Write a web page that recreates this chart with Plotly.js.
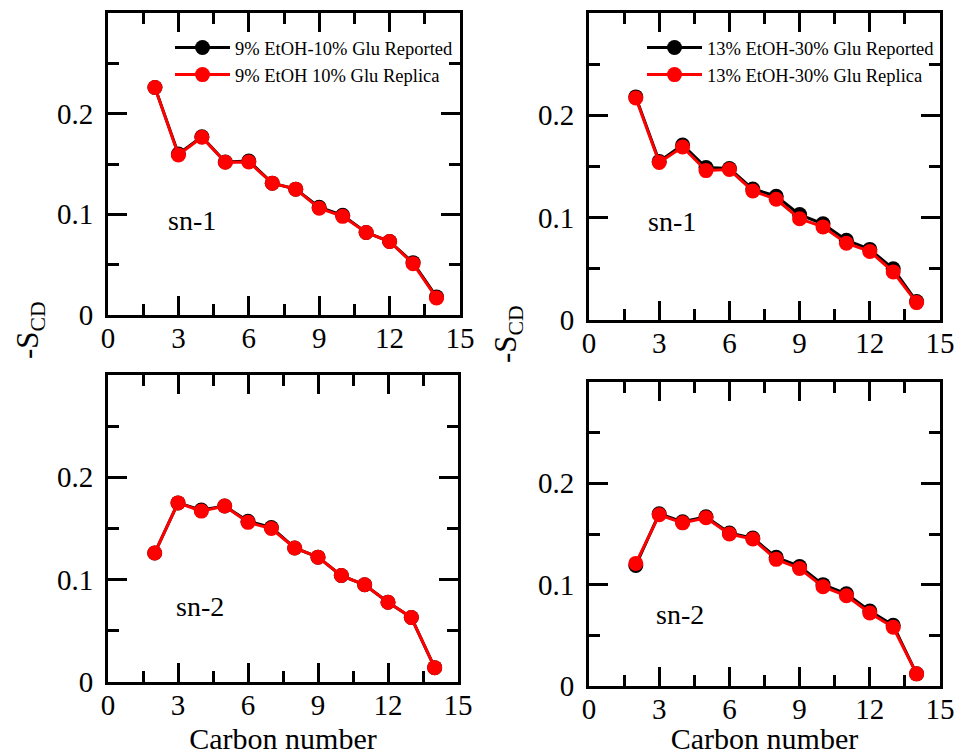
<!DOCTYPE html>
<html>
<head>
<meta charset="utf-8">
<script src="https://cdn.plot.ly/plotly-3.0.1.min.js"></script>
<style>html,body{margin:0;padding:0;background:#fff;}#chart{width:958px;height:755px;}</style>
</head>
<body>
<div id="chart"></div>
<script>
// ---- data ----
const carbons = [2,3,4,5,6,7,8,9,10,11,12,13,14];

const sn1_9_reported = [0.226,0.160,0.177,0.152,0.153,0.131,0.125,0.107,0.099,0.082,0.073,0.052,0.018];
const sn1_9_replica  = [0.226,0.159,0.1765,0.1517,0.152,0.131,0.125,0.106,0.098,0.082,0.073,0.051,0.017];

const sn1_13_reported = [0.218,0.155,0.171,0.149,0.148,0.128,0.121,0.103,0.094,0.078,0.069,0.050,0.018];
const sn1_13_replica  = [0.217,0.154,0.169,0.146,0.147,0.126,0.118,0.099,0.091,0.075,0.067,0.047,0.017];

const sn2_9_reported = [0.126,0.175,0.168,0.172,0.157,0.151,0.131,0.122,0.104,0.095,0.078,0.063,0.014];
const sn2_9_replica  = [0.126,0.175,0.167,0.172,0.156,0.150,0.131,0.122,0.104,0.095,0.078,0.063,0.014];

const sn2_13_reported = [0.119,0.170,0.162,0.167,0.151,0.146,0.127,0.118,0.100,0.091,0.074,0.060,0.012];
const sn2_13_replica  = [0.121,0.169,0.161,0.166,0.150,0.145,0.125,0.116,0.098,0.089,0.072,0.058,0.012];

const names = {
  rep9: "9% EtOH-10% Glu Reported",
  repl9: "9% EtOH 10% Glu Replica",
  rep13: "13% EtOH-30% Glu Reported",
  repl13: "13% EtOH-30% Glu Replica"
};

const xTickVals = [0,3,6,9,12,15];
const yTickVals = [0,0.1,0.2];
const yTickText = ["0","0.1","0.2"];

// ---- styling ----
const FONT = "Liberation Serif, Times New Roman, serif";
const BLACK = "#000000", RED = "#ff0000";

function series(x, y, color, name, xa, ya, legend, show, group) {
  return {
    x: x, y: y, type: "scatter", mode: "lines+markers", name: name,
    xaxis: xa, yaxis: ya, legend: legend, showlegend: show, legendgroup: group,
    line: {color: color, width: 3},
    marker: {color: color, size: 15, line: {width: 0}}
  };
}

const traces = [
  series(carbons, sn1_9_reported, BLACK, names.rep9, "x", "y", "legend", true, "a"),
  series(carbons, sn1_9_replica, RED, names.repl9, "x", "y", "legend", true, "b"),
  series(carbons, sn1_13_reported, BLACK, names.rep13, "x2", "y2", "legend2", true, "c"),
  series(carbons, sn1_13_replica, RED, names.repl13, "x2", "y2", "legend2", true, "d"),
  series(carbons, sn2_9_reported, BLACK, names.rep9, "x3", "y3", "legend", false, "e"),
  series(carbons, sn2_9_replica, RED, names.repl9, "x3", "y3", "legend", false, "f"),
  series(carbons, sn2_13_reported, BLACK, names.rep13, "x4", "y4", "legend2", false, "g"),
  series(carbons, sn2_13_replica, RED, names.repl13, "x4", "y4", "legend2", false, "h")
];

const W = 958, H = 755;
function px2x(p){ return p / W; }
function px2y(p){ return 1 - p / H; }

function xaxis(l, r, anchor, title) {
  const ax = {
    domain: [px2x(l), px2x(r)], anchor: anchor, range: [0, 15],
    tickmode: "array", tickvals: xTickVals,
    ticks: "inside", ticklen: 19, tickwidth: 3, tickcolor: BLACK,
    minor: {tickmode: "linear", tick0: 0, dtick: 1.5, ticks: "inside", ticklen: 11, tickwidth: 3, tickcolor: BLACK},
    showline: true, linewidth: 3, linecolor: BLACK, mirror: "ticks",
    showgrid: false, zeroline: false,
    tickfont: {family: FONT, size: 29, color: BLACK},
    ticklabelstandoff: -5
  };
  if (title) ax.title = {text: "Carbon number", font: {family: FONT, size: 30, color: BLACK}, standoff: 12};
  return ax;
}
function yaxis(t, b, anchor) {
  return {
    domain: [px2y(b), px2y(t)], anchor: anchor, range: [0, 0.3],
    tickmode: "array", tickvals: yTickVals, ticktext: yTickText,
    ticks: "inside", ticklen: 19, tickwidth: 3, tickcolor: BLACK,
    minor: {tickmode: "linear", tick0: 0, dtick: 0.05, ticks: "inside", ticklen: 11, tickwidth: 3, tickcolor: BLACK},
    showline: true, linewidth: 3, linecolor: BLACK, mirror: "ticks",
    showgrid: false, zeroline: false,
    tickfont: {family: FONT, size: 29, color: BLACK},
    ticklabelstandoff: 6
  };
}

function label(text, x, y, xref, yref) {
  return {text: text, x: x, y: y, xref: xref, yref: yref, showarrow: false,
          xanchor: "center", yanchor: "middle",
          font: {family: FONT, size: 28, color: BLACK}};
}
function ytitle(x, y) {
  return {text: "-S<sub>CD</sub>", x: px2x(x), y: px2y(y), xref: "paper", yref: "paper",
          showarrow: false, textangle: -90, xanchor: "center", yanchor: "middle",
          font: {family: FONT, size: 31, color: BLACK}};
}

const legendStyle = {
  font: {family: FONT, size: 18.5, color: BLACK},
  bgcolor: "rgba(0,0,0,0)", borderwidth: 0,
  itemwidth: 55, tracegroupgap: 5, traceorder: "normal",
  xref: "paper", yref: "paper", xanchor: "left", yanchor: "top"
};

const layout = {
  width: W, height: H,
  margin: {l: 0, r: 0, t: 0, b: 0},
  paper_bgcolor: "#ffffff", plot_bgcolor: "#ffffff",
  font: {family: FONT, color: BLACK},
  xaxis: xaxis(108, 460, "y", false),
  yaxis: yaxis(13, 315, "x"),
  xaxis2: xaxis(589, 940, "y2", false),
  yaxis2: yaxis(13, 320, "x2"),
  xaxis3: xaxis(108, 458, "y3", true),
  yaxis3: yaxis(375, 682, "x3"),
  xaxis4: xaxis(589, 940, "y4", true),
  yaxis4: yaxis(382, 686, "x4"),
  legend: Object.assign({}, legendStyle, {x: px2x(170), y: px2y(29)}),
  legend2: Object.assign({}, legendStyle, {x: px2x(642), y: px2y(29)}),
  annotations: [
    label("sn-1", 3.58, 0.094, "x", "y"),
    label("sn-1", 3.55, 0.096, "x2", "y2"),
    label("sn-2", 3.94, 0.074, "x3", "y3"),
    label("sn-2", 3.89, 0.071, "x4", "y4"),
    ytitle(30, 330),
    ytitle(508, 334)
  ]
};

Plotly.newPlot("chart", traces, layout, {displayModeBar: false, staticPlot: true});
</script>
</body>
</html>
